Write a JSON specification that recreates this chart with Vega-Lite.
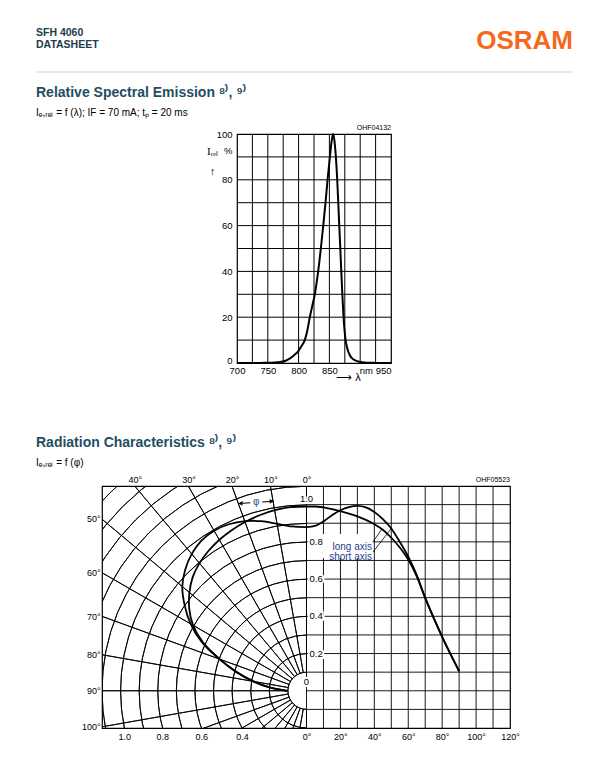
{
  "$schema": "https://vega.github.io/schema/vega-lite/v6.json",
  "background": "white",
  "padding": {"left": 35, "top": 28, "right": 5, "bottom": 5},
  "config": {
    "view": {"stroke": null},
    "font": "Liberation Sans",
    "text": {"font": "Liberation Sans"},
    "axis": {"labelFont": "Liberation Sans", "labelFontSize": 9.5, "labelColor": "black", "ticks": false, "domain": false, "labelFlush": false, "labelOverlap": false, "grid": false}
  },
  "datasets": {
    "spectrum": [
      {"nm": 700, "rel": 0}, {"nm": 720, "rel": 0}, {"nm": 740, "rel": 0.05}, {"nm": 755, "rel": 0.15},
      {"nm": 765, "rel": 0.3}, {"nm": 772, "rel": 0.5}, {"nm": 779, "rel": 1}, {"nm": 786, "rel": 2},
      {"nm": 792, "rel": 3.3}, {"nm": 799, "rel": 5}, {"nm": 805, "rel": 7.5}, {"nm": 810, "rel": 10},
      {"nm": 814, "rel": 14}, {"nm": 818.2, "rel": 20}, {"nm": 822.3, "rel": 25}, {"nm": 826.3, "rel": 30},
      {"nm": 829.2, "rel": 35}, {"nm": 831.8, "rel": 40}, {"nm": 834, "rel": 45}, {"nm": 836.1, "rel": 50},
      {"nm": 840, "rel": 60}, {"nm": 843.7, "rel": 70}, {"nm": 847, "rel": 80}, {"nm": 850.8, "rel": 90},
      {"nm": 853.4, "rel": 96.5}, {"nm": 856, "rel": 100}, {"nm": 858.2, "rel": 97}, {"nm": 860.5, "rel": 90},
      {"nm": 862.7, "rel": 80}, {"nm": 864.4, "rel": 70}, {"nm": 866, "rel": 60}, {"nm": 867.7, "rel": 50},
      {"nm": 869.3, "rel": 40}, {"nm": 871, "rel": 30}, {"nm": 873, "rel": 20}, {"nm": 876.3, "rel": 10},
      {"nm": 878.5, "rel": 7}, {"nm": 880.6, "rel": 5}, {"nm": 884, "rel": 3}, {"nm": 887, "rel": 2},
      {"nm": 893, "rel": 1}, {"nm": 900, "rel": 0.4}, {"nm": 910, "rel": 0.15}, {"nm": 925, "rel": 0.05},
      {"nm": 950, "rel": 0}
    ],
    "curves": [
      {"curve": "long axis", "phi": 0, "I": 0.99, "polar_x": 0, "polar_y": 0.99},
      {"curve": "long axis", "phi": 5, "I": 0.99, "polar_x": -0.0863, "polar_y": 0.9862},
      {"curve": "long axis", "phi": 10, "I": 0.985, "polar_x": -0.171, "polar_y": 0.97},
      {"curve": "long axis", "phi": 15, "I": 0.976, "polar_x": -0.2526, "polar_y": 0.9427},
      {"curve": "long axis", "phi": 20, "I": 0.965, "polar_x": -0.3301, "polar_y": 0.9068},
      {"curve": "long axis", "phi": 25, "I": 0.952, "polar_x": -0.4023, "polar_y": 0.8628},
      {"curve": "long axis", "phi": 30, "I": 0.937, "polar_x": -0.4685, "polar_y": 0.8115},
      {"curve": "long axis", "phi": 35, "I": 0.918, "polar_x": -0.5266, "polar_y": 0.752},
      {"curve": "long axis", "phi": 40, "I": 0.895, "polar_x": -0.5753, "polar_y": 0.6856},
      {"curve": "long axis", "phi": 45, "I": 0.865, "polar_x": -0.6117, "polar_y": 0.6117},
      {"curve": "long axis", "phi": 50, "I": 0.822, "polar_x": -0.6297, "polar_y": 0.5284},
      {"curve": "long axis", "phi": 55, "I": 0.77, "polar_x": -0.6308, "polar_y": 0.4417},
      {"curve": "long axis", "phi": 60, "I": 0.705, "polar_x": -0.6106, "polar_y": 0.3525},
      {"curve": "long axis", "phi": 65, "I": 0.615, "polar_x": -0.5574, "polar_y": 0.2599},
      {"curve": "long axis", "phi": 70, "I": 0.497, "polar_x": -0.467, "polar_y": 0.17},
      {"curve": "long axis", "phi": 75, "I": 0.39, "polar_x": -0.3767, "polar_y": 0.1009},
      {"curve": "long axis", "phi": 80, "I": 0.29, "polar_x": -0.2856, "polar_y": 0.0504},
      {"curve": "long axis", "phi": 85, "I": 0.195, "polar_x": -0.1943, "polar_y": 0.017},
      {"curve": "long axis", "phi": 90, "I": 0.105, "polar_x": -0.105, "polar_y": 0},
      {"curve": "short axis", "phi": 0, "I": 0.879, "polar_x": 0, "polar_y": 0.879},
      {"curve": "short axis", "phi": 5, "I": 0.886, "polar_x": -0.0772, "polar_y": 0.8826},
      {"curve": "short axis", "phi": 10, "I": 0.91, "polar_x": -0.158, "polar_y": 0.8962},
      {"curve": "short axis", "phi": 15, "I": 0.943, "polar_x": -0.2441, "polar_y": 0.9109},
      {"curve": "short axis", "phi": 20, "I": 0.97, "polar_x": -0.3318, "polar_y": 0.9115},
      {"curve": "short axis", "phi": 25, "I": 0.987, "polar_x": -0.4171, "polar_y": 0.8945},
      {"curve": "short axis", "phi": 30, "I": 0.993, "polar_x": -0.4965, "polar_y": 0.86},
      {"curve": "short axis", "phi": 35, "I": 0.985, "polar_x": -0.565, "polar_y": 0.8069},
      {"curve": "short axis", "phi": 40, "I": 0.96, "polar_x": -0.6171, "polar_y": 0.7354},
      {"curve": "short axis", "phi": 45, "I": 0.922, "polar_x": -0.652, "polar_y": 0.652},
      {"curve": "short axis", "phi": 50, "I": 0.872, "polar_x": -0.668, "polar_y": 0.5605},
      {"curve": "short axis", "phi": 55, "I": 0.8, "polar_x": -0.6553, "polar_y": 0.4589},
      {"curve": "short axis", "phi": 60, "I": 0.72, "polar_x": -0.6235, "polar_y": 0.36},
      {"curve": "short axis", "phi": 65, "I": 0.622, "polar_x": -0.5637, "polar_y": 0.2629},
      {"curve": "short axis", "phi": 70, "I": 0.5, "polar_x": -0.4698, "polar_y": 0.171},
      {"curve": "short axis", "phi": 75, "I": 0.392, "polar_x": -0.3786, "polar_y": 0.1015},
      {"curve": "short axis", "phi": 80, "I": 0.29, "polar_x": -0.2856, "polar_y": 0.0504},
      {"curve": "short axis", "phi": 85, "I": 0.195, "polar_x": -0.1943, "polar_y": 0.017},
      {"curve": "short axis", "phi": 90, "I": 0.105, "polar_x": -0.105, "polar_y": 0}
    ]
  },
  "spacing": 53,
  "vconcat": [
    {
      "spacing": 13,
      "vconcat": [
        {
          "width": 537,
          "height": 44,
          "view": {"stroke": null},
          "layer": [
            {
              "data": {"values": [{"t": "SFH 4060\nDATASHEET"}]},
              "mark": {"type": "text", "align": "left", "baseline": "top", "lineBreak": "\n", "lineHeight": 11.7, "fontSize": 10.5, "fontWeight": "bold", "color": "#1b3d4f"},
              "encoding": {
                "text": {"field": "t"},
                "x": {"datum": 0, "type": "quantitative", "scale": {"domain": [0, 1]}, "axis": null},
                "y": {"datum": 1, "type": "quantitative", "scale": {"domain": [0, 1]}, "axis": null}
              }
            },
            {
              "data": {"values": [{"t": "OSRAM"}]},
              "mark": {"type": "text", "align": "right", "baseline": "top", "fontSize": 26, "fontWeight": "bold", "color": "#f5691e"},
              "encoding": {
                "text": {"field": "t"},
                "x": {"datum": 1, "type": "quantitative", "axis": null},
                "y": {"datum": 1, "type": "quantitative", "axis": null}
              }
            },
            {
              "data": {"values": [{}]},
              "mark": {"type": "rule", "color": "#e4e8ec", "strokeWidth": 2},
              "encoding": {
                "x": {"datum": 0, "type": "quantitative", "axis": null},
                "x2": {"datum": 1},
                "y": {"datum": 0, "type": "quantitative", "axis": null}
              }
            }
          ]
        },
        {
          "title": {
            "text": "Relative Spectral Emission ⁸⁾, ⁹⁾",
            "subtitle": "Iₑ,ᵣₑₗ = f (λ); IF = 70 mA; tₚ = 20 ms",
            "anchor": "start", "frame": "group", "offset": 5,
            "font": "Liberation Sans", "fontSize": 14, "fontWeight": "bold", "color": "#1f4e63",
            "subtitleFont": "Liberation Sans", "subtitleFontSize": 10, "subtitleColor": "black", "subtitlePadding": 8
          },
          "spacing": 0,
          "hconcat": [
            {
              "width": 168.7,
              "height": 1,
              "view": {"stroke": null},
              "data": {"values": [{}]},
              "mark": {"type": "rule", "opacity": 0},
              "encoding": {"y": {"datum": 0, "type": "quantitative", "scale": {"domain": [0, 1]}, "axis": null}}
            },
            {
              "width": 154,
              "height": 229,
              "view": {"stroke": "black", "strokeWidth": 1.2},
              "layer": [
                {
                  "data": {"name": "spectrum"},
                  "mark": {"type": "line", "color": "black", "strokeWidth": 2, "interpolate": "monotone"},
                  "encoding": {
                    "x": {
                      "field": "nm", "type": "quantitative",
                      "scale": {"domain": [700, 950], "nice": false, "zero": false},
                      "axis": {
                        "values": [700, 750, 800, 850, 909, 950],
                        "labelExpr": "datum.value == 909 ? 'nm' : datum.label",
                        "labelAlign": {"condition": {"test": "datum.value == 950", "value": "right"}, "value": "center"},
                        "labelOverlap": false, "labelFlush": false, "labelBound": false, "grid": false,
                        "labelPadding": 2,
                        "title": "⟶ λ", "titleX": 111, "titleY": 14, "titleAlign": "center", "titleBaseline": "middle",
                        "titleFontSize": 11, "titleFontWeight": "normal", "titleColor": "black"
                      }
                    },
                    "y": {
                      "field": "rel", "type": "quantitative",
                      "scale": {"domain": [0, 100], "nice": false, "zero": false},
                      "axis": {
                        "values": [0, 20, 40, 60, 80, 93, 100],
                        "labelExpr": "datum.value == 93 ? '%' : datum.label",
                        "labelBaseline": {"condition": {"test": "datum.value == 0", "value": "alphabetic"}, "value": "middle"},
                        "labelOverlap": false, "labelBound": false, "grid": false,
                        "labelPadding": 5,
                        "title": ["Iᵣₑₗ", "↑"], "titleAngle": 0, "titleAlign": "center", "titleBaseline": "top",
                        "titleX": -25, "titleY": 11, "titleFont": "Liberation Serif", "titleFontSize": 11,
                        "titleFontWeight": "normal", "titleLineHeight": 20, "titleColor": "black"
                      }
                    }
                  }
                },
                {
                  "data": {"values": [{"g": 725}, {"g": 750}, {"g": 775}, {"g": 800}, {"g": 825}, {"g": 850}, {"g": 875}, {"g": 900}, {"g": 925}]},
                  "mark": {"type": "rule", "color": "black", "strokeWidth": 1},
                  "encoding": {
                    "x": {
                      "field": "g", "type": "quantitative",
                      "scale": {"domain": [700, 950], "nice": false, "zero": false},
                      "axis": {
                        "values": [700, 750, 800, 850, 909, 950],
                        "labelExpr": "datum.value == 909 ? 'nm' : datum.label",
                        "labelAlign": {"condition": {"test": "datum.value == 950", "value": "right"}, "value": "center"},
                        "labelOverlap": false, "labelFlush": false, "labelBound": false, "grid": false,
                        "labelPadding": 2,
                        "title": "⟶ λ", "titleX": 111, "titleY": 14, "titleAlign": "center", "titleBaseline": "middle",
                        "titleFontSize": 11, "titleFontWeight": "normal", "titleColor": "black"
                      }
                    }
                  }
                },
                {
                  "data": {"values": [{"h": 10}, {"h": 20}, {"h": 30}, {"h": 40}, {"h": 50}, {"h": 60}, {"h": 70}, {"h": 80}, {"h": 90}]},
                  "mark": {"type": "rule", "color": "black", "strokeWidth": 1},
                  "encoding": {
                    "y": {
                      "field": "h", "type": "quantitative",
                      "scale": {"domain": [0, 100], "nice": false, "zero": false},
                      "axis": {
                        "values": [0, 20, 40, 60, 80, 93, 100],
                        "labelExpr": "datum.value == 93 ? '%' : datum.label",
                        "labelBaseline": {"condition": {"test": "datum.value == 0", "value": "alphabetic"}, "value": "middle"},
                        "labelOverlap": false, "labelBound": false, "grid": false,
                        "labelPadding": 5,
                        "title": ["Iᵣₑₗ", "↑"], "titleAngle": 0, "titleAlign": "center", "titleBaseline": "top",
                        "titleX": -25, "titleY": 11, "titleFont": "Liberation Serif", "titleFontSize": 11,
                        "titleFontWeight": "normal", "titleLineHeight": 20, "titleColor": "black"
                      }
                    }
                  }
                },
                {
                  "data": {"values": [{"t": "OHF04132"}]},
                  "mark": {"type": "text", "align": "right", "baseline": "bottom", "dy": -3, "fontSize": 7, "color": "black"},
                  "encoding": {
                    "text": {"field": "t"},
                    "x": {
                      "datum": 950, "type": "quantitative",
                      "axis": {
                        "values": [700, 750, 800, 850, 909, 950],
                        "labelExpr": "datum.value == 909 ? 'nm' : datum.label",
                        "labelAlign": {"condition": {"test": "datum.value == 950", "value": "right"}, "value": "center"},
                        "labelOverlap": false, "labelFlush": false, "labelBound": false, "grid": false,
                        "labelPadding": 2,
                        "title": "⟶ λ", "titleX": 111, "titleY": 14, "titleAlign": "center", "titleBaseline": "middle",
                        "titleFontSize": 11, "titleFontWeight": "normal", "titleColor": "black"
                      }
                    },
                    "y": {
                      "datum": 100, "type": "quantitative",
                      "axis": {
                        "values": [0, 20, 40, 60, 80, 93, 100],
                        "labelExpr": "datum.value == 93 ? '%' : datum.label",
                        "labelBaseline": {"condition": {"test": "datum.value == 0", "value": "alphabetic"}, "value": "middle"},
                        "labelOverlap": false, "labelBound": false, "grid": false,
                        "labelPadding": 5,
                        "title": ["Iᵣₑₗ", "↑"], "titleAngle": 0, "titleAlign": "center", "titleBaseline": "top",
                        "titleX": -25, "titleY": 11, "titleFont": "Liberation Serif", "titleFontSize": 11,
                        "titleFontWeight": "normal", "titleLineHeight": 20, "titleColor": "black"
                      }
                    }
                  }
                }
              ]
            }
          ]
        }
      ]
    },
    {
      "title": {
        "text": "Radiation Characteristics ⁸⁾, ⁹⁾",
        "subtitle": "Iₑ,ᵣₑₗ = f (φ)",
        "anchor": "start", "frame": "group", "offset": 6,
        "font": "Liberation Sans", "fontSize": 14, "fontWeight": "bold", "color": "#1f4e63",
        "subtitleFont": "Liberation Sans", "subtitleFontSize": 10, "subtitleColor": "black", "subtitlePadding": 8
      },
      "spacing": 0,
      "hconcat": [
        {
          "width": 43.8,
          "height": 1,
          "view": {"stroke": null},
          "data": {"values": [{}]},
          "mark": {"type": "rule", "opacity": 0},
          "encoding": {"y": {"datum": 0, "type": "quantitative", "scale": {"domain": [0, 1]}, "axis": null}}
        },
        {
          "width": 408,
          "height": 242,
          "view": {"stroke": "black", "strokeWidth": 1.2},
          "resolve": {"scale": {"x": "independent"}, "axis": {"x": "independent"}},
          "layer": [
            {
              "layer": [
                {
                  "data": {"values": [{"r": 0.1}, {"r": 0.2}, {"r": 0.3}, {"r": 0.4}, {"r": 0.5}, {"r": 0.6}, {"r": 0.7}, {"r": 0.8}, {"r": 0.9}, {"r": 1.0}, {"r": 1.1}, {"r": 1.2}, {"r": 1.3}, {"r": 1.4}, {"r": 1.5}, {"r": 1.6}]},
                  "mark": {"type": "arc", "filled": false, "color": "black", "strokeWidth": 0.9, "clip": true},
                  "encoding": {
                    "x": {"datum": 0, "type": "quantitative", "scale": {"domain": [-1.1, 1.0947], "nice": false, "zero": false}, "title": null},
                    "y": {"datum": 0, "type": "quantitative", "scale": {"domain": [-0.2, 1.1], "nice": false, "zero": false}, "title": null},
                    "theta": {"datum": 180, "type": "quantitative", "scale": {"domain": [0, 360], "range": [0, 6.283185307]}},
                    "theta2": {"datum": 360},
                    "radius": {"field": "r", "type": "quantitative", "scale": {"type": "linear", "domain": [0, 1], "range": [0, 185.9], "zero": true}},
                    "radius2": {"field": "r"}
                  }
                },
                {
                  "data": {"values": [{"angle": 180}, {"angle": 190}, {"angle": 200}, {"angle": 210}, {"angle": 220}, {"angle": 230}, {"angle": 240}, {"angle": 250}, {"angle": 260}, {"angle": 270}, {"angle": 280}, {"angle": 290}, {"angle": 300}, {"angle": 310}, {"angle": 320}, {"angle": 330}, {"angle": 340}, {"angle": 350}, {"angle": 360}]},
                  "mark": {"type": "arc", "filled": false, "color": "black", "strokeWidth": 0.9, "clip": true},
                  "encoding": {
                    "x": {"datum": 0, "type": "quantitative", "scale": {"domain": [-1.1, 1.0947], "nice": false, "zero": false}, "title": null},
                    "y": {"datum": 0, "type": "quantitative", "scale": {"domain": [-0.2, 1.1], "nice": false, "zero": false}, "title": null},
                    "theta": {"field": "angle", "type": "quantitative", "stack": null, "scale": {"domain": [0, 360], "range": [0, 6.283185307]}},
                    "theta2": {"field": "angle"},
                    "radius": {"datum": 2, "type": "quantitative", "scale": {"type": "linear", "domain": [0, 1], "range": [0, 185.9], "zero": true}},
                    "radius2": {"datum": 0.1}
                  }
                },
                {
                  "data": {"name": "curves"},
                  "mark": {"type": "line", "color": "black", "strokeWidth": 1.8, "interpolate": "catmull-rom"},
                  "encoding": {
                    "x": {
                      "field": "polar_x", "type": "quantitative",
                      "scale": {"domain": [-1.1, 1.0947], "nice": false, "zero": false},
                      "axis": {
                        "orient": "top", "values": [-0.923, -0.635, -0.4, -0.194, 0],
                        "labelExpr": "datum.value < -0.8 ? '40°' : datum.value < -0.5 ? '30°' : datum.value < -0.3 ? '20°' : datum.value < -0.1 ? '10°' : '0°'",
                        "grid": false, "labelOverlap": false, "labelFlush": false, "labelPadding": 2, "labelFontSize": 9, "title": null
                      }
                    },
                    "y": {
                      "field": "polar_y", "type": "quantitative",
                      "scale": {"domain": [-0.2, 1.1], "nice": false, "zero": false},
                      "axis": {
                        "orient": "left", "values": [-0.194, 0, 0.194, 0.4, 0.635, 0.923],
                        "labelExpr": "datum.value > 0.8 ? '50°' : datum.value > 0.5 ? '60°' : datum.value > 0.3 ? '70°' : datum.value > 0.1 ? '80°' : datum.value > -0.1 ? '90°' : '100°'",
                        "grid": false, "labelOverlap": false, "labelPadding": 2, "labelFontSize": 9, "title": null
                      }
                    },
                    "detail": {"field": "curve"},
                    "order": {"field": "phi", "type": "quantitative"}
                  }
                },
                {
                  "data": {"values": [{"x1": -0.302, "y1": 1.010, "x2": -0.362, "y2": 1.006}, {"x1": -0.238, "y1": 1.014, "x2": -0.18, "y2": 1.018}]},
                  "mark": {"type": "rule", "color": "black", "strokeWidth": 1},
                  "encoding": {
                    "x": {"field": "x1", "type": "quantitative", "title": null},
                    "y": {"field": "y1", "type": "quantitative", "title": null},
                    "x2": {"field": "x2"},
                    "y2": {"field": "y2"}
                  }
                },
                {
                  "data": {"values": [{}]},
                  "mark": {"type": "point", "shape": "triangle-left", "size": 22, "filled": true, "color": "black", "opacity": 1},
                  "encoding": {
                    "x": {"datum": -0.355, "type": "quantitative"},
                    "y": {"datum": 1.0065, "type": "quantitative"}
                  }
                },
                {
                  "data": {"values": [{}]},
                  "mark": {"type": "point", "shape": "triangle-right", "size": 22, "filled": true, "color": "black", "opacity": 1},
                  "encoding": {
                    "x": {"datum": -0.187, "type": "quantitative"},
                    "y": {"datum": 1.0175, "type": "quantitative"}
                  }
                },
                {
                  "data": {"values": [{"t": "φ"}]},
                  "mark": {"type": "text", "align": "center", "baseline": "middle", "fontSize": 10, "color": "#2a4a9a"},
                  "encoding": {
                    "text": {"field": "t"},
                    "x": {"datum": -0.27, "type": "quantitative"},
                    "y": {"datum": 1.012, "type": "quantitative"}
                  }
                }
              ]
            },
            {
              "layer": [
                {
                  "data": {"values": [{"g": 0}, {"g": 10}, {"g": 20}, {"g": 30}, {"g": 40}, {"g": 50}, {"g": 60}, {"g": 70}, {"g": 80}, {"g": 90}, {"g": 100}, {"g": 110}]},
                  "mark": {"type": "rule", "color": "black", "strokeWidth": 0.9},
                  "encoding": {
                    "x": {"field": "g", "type": "quantitative", "scale": {"domain": [-120.6, 120], "nice": false, "zero": false}, "title": null}
                  }
                },
                {
                  "data": {"values": [{"v": -0.1}, {"v": 0}, {"v": 0.1}, {"v": 0.2}, {"v": 0.3}, {"v": 0.4}, {"v": 0.5}, {"v": 0.6}, {"v": 0.7}, {"v": 0.8}, {"v": 0.9}, {"v": 1.0}]},
                  "mark": {"type": "rule", "color": "black", "strokeWidth": 0.9},
                  "encoding": {
                    "x": {"datum": 0, "type": "quantitative", "scale": {"domain": [-120.6, 120], "nice": false, "zero": false}, "title": null},
                    "x2": {"datum": 120},
                    "y": {"field": "v", "type": "quantitative", "scale": {"domain": [-0.2, 1.1], "nice": false, "zero": false}, "title": null}
                  }
                },
                {
                  "data": {"name": "curves"},
                  "mark": {"type": "line", "color": "black", "strokeWidth": 1.8, "interpolate": "monotone"},
                  "encoding": {
                    "x": {
                      "field": "phi", "type": "quantitative",
                      "scale": {"domain": [-120.6, 120], "nice": false, "zero": false},
                      "axis": {
                        "orient": "bottom",
                        "values": [-107.5, -85, -62.1, -38, 0, 20, 40, 60, 80, 100, 120],
                        "labelExpr": "datum.value < -100 ? '1.0' : datum.value < -80 ? '0.8' : datum.value < -50 ? '0.6' : datum.value < -30 ? '0.4' : datum.value + '°'",
                        "grid": false, "labelOverlap": false, "labelFlush": false,
                        "labelPadding": 4, "labelFontSize": 9, "title": null
                      }
                    },
                    "y": {"field": "I", "type": "quantitative", "scale": {"domain": [-0.2, 1.1], "nice": false, "zero": false}, "title": null},
                    "detail": {"field": "curve"}
                  }
                },
                {
                  "data": {"values": [{}]},
                  "mark": {"type": "rect", "fill": "white"},
                  "encoding": {
                    "x": {"datum": 9.5, "type": "quantitative"},
                    "x2": {"datum": 39.3},
                    "y": {"datum": 0.842, "type": "quantitative"},
                    "y2": {"datum": 0.713}
                  }
                },
                {
                  "data": {"values": [{"t": "long axis\nshort axis"}]},
                  "mark": {"type": "text", "align": "right", "baseline": "middle", "lineBreak": "\n", "lineHeight": 10.5, "fontSize": 10, "color": "#26418f"},
                  "encoding": {
                    "text": {"field": "t"},
                    "x": {"datum": 38.6, "type": "quantitative"},
                    "y": {"datum": 0.773, "type": "quantitative"}
                  }
                },
                {
                  "data": {"values": [{"a": 39.2, "b": 0.8, "c": 44.5, "d": 0.869}, {"a": 39.2, "b": 0.745, "c": 50, "d": 0.872}]},
                  "mark": {"type": "rule", "color": "black", "strokeWidth": 0.8},
                  "encoding": {
                    "x": {"field": "a", "type": "quantitative"},
                    "y": {"field": "b", "type": "quantitative"},
                    "x2": {"field": "c"},
                    "y2": {"field": "d"}
                  }
                },
                {
                  "data": {"values": [{"v": 0.2, "lab": "0.2"}, {"v": 0.4, "lab": "0.4"}, {"v": 0.6, "lab": "0.6"}, {"v": 0.8, "lab": "0.8"}]},
                  "mark": {"type": "text", "align": "left", "baseline": "middle", "dx": 3, "fontSize": 9.5, "color": "white", "stroke": "white", "strokeWidth": 4},
                  "encoding": {
                    "text": {"field": "lab"},
                    "x": {"datum": 0, "type": "quantitative"},
                    "y": {"field": "v", "type": "quantitative"}
                  }
                },
                {
                  "data": {"values": [{"v": 0.2, "lab": "0.2"}, {"v": 0.4, "lab": "0.4"}, {"v": 0.6, "lab": "0.6"}, {"v": 0.8, "lab": "0.8"}]},
                  "mark": {"type": "text", "align": "left", "baseline": "middle", "dx": 3, "fontSize": 9.5, "color": "black"},
                  "encoding": {
                    "text": {"field": "lab"},
                    "x": {"datum": 0, "type": "quantitative"},
                    "y": {"field": "v", "type": "quantitative"}
                  }
                },
                {
                  "data": {"values": [{"v": 1.0, "lab": "1.0"}]},
                  "mark": {"type": "text", "align": "center", "baseline": "bottom", "dy": -1, "fontSize": 9.5, "color": "white", "stroke": "white", "strokeWidth": 4},
                  "encoding": {"text": {"field": "lab"}, "x": {"datum": 0, "type": "quantitative"}, "y": {"field": "v", "type": "quantitative"}}
                },
                {
                  "data": {"values": [{"v": 1.0, "lab": "1.0"}]},
                  "mark": {"type": "text", "align": "center", "baseline": "bottom", "dy": -1, "fontSize": 9.5, "color": "black"},
                  "encoding": {"text": {"field": "lab"}, "x": {"datum": 0, "type": "quantitative"}, "y": {"field": "v", "type": "quantitative"}}
                },
                {
                  "data": {"values": [{"v": 0, "lab": "0"}]},
                  "mark": {"type": "text", "align": "center", "baseline": "bottom", "dy": -4, "fontSize": 9.5, "color": "white", "stroke": "white", "strokeWidth": 4},
                  "encoding": {"text": {"field": "lab"}, "x": {"datum": 0, "type": "quantitative"}, "y": {"field": "v", "type": "quantitative"}}
                },
                {
                  "data": {"values": [{"v": 0, "lab": "0"}]},
                  "mark": {"type": "text", "align": "center", "baseline": "bottom", "dy": -4, "fontSize": 9.5, "color": "black"},
                  "encoding": {"text": {"field": "lab"}, "x": {"datum": 0, "type": "quantitative"}, "y": {"field": "v", "type": "quantitative"}}
                },
                {
                  "data": {"values": [{"t": "OHF05523"}]},
                  "mark": {"type": "text", "align": "right", "baseline": "bottom", "dy": -3, "fontSize": 7, "color": "black"},
                  "encoding": {
                    "text": {"field": "t"},
                    "x": {"datum": 120, "type": "quantitative"},
                    "y": {"datum": 1.1, "type": "quantitative"}
                  }
                }
              ]
            }
          ]
        }
      ]
    }
  ]
}
